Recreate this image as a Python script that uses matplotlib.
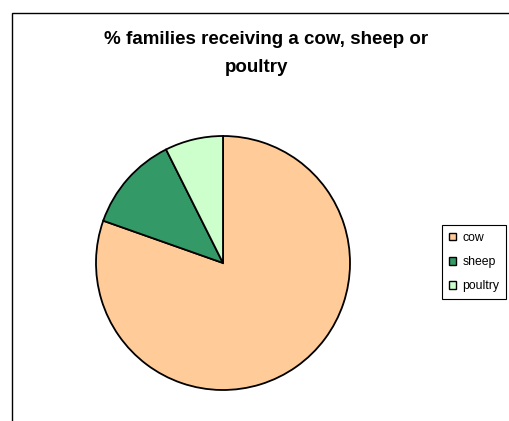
import matplotlib.pyplot as plt
from matplotlib.patches import Rectangle, Patch

labels = ["cow", "sheep", "poultry"]
values = [80.4, 12.2, 7.4]
colors = ["#FFCC99", "#339966", "#CCFFCC"]

plt.rcParams["font.family"] = ["Liberation Sans", "DejaVu Sans"]

W, H = 509, 421
fig = plt.figure(figsize=(W / 100, H / 100), dpi=100)

# chart area frame (only left and top edges visible)
top = 1 - 12.5 / H
fig.patches.append(Rectangle((11.5 / W, -0.2), 1.2, top + 0.2,
                             transform=fig.transFigure, fill=False,
                             edgecolor="#000000", linewidth=1.0))

cx, cy, r = 223, 263, 127
ax = fig.add_axes([(cx - r) / W, (H - cy - r) / H, 2 * r / W, 2 * r / H])
wedges, _ = ax.pie(values, colors=colors, startangle=90, counterclock=False,
                   wedgeprops=dict(edgecolor="black", linewidth=1.3))
for w in wedges:
    w.set_clip_on(False)
ax.set_xlim(-1, 1)
ax.set_ylim(-1, 1)
ax.set_aspect("equal")

fig.text(266 / W, 1 - 40 / H, "% families receiving a cow, sheep or",
         ha="center", va="center", fontsize=13.5, fontweight="bold")
fig.text(257 / W, 1 - 67 / H, "poultry",
         ha="center", va="center", fontsize=13.5, fontweight="bold")

handles = [Patch(facecolor=c, edgecolor="black", linewidth=1.0) for c in colors]
leg = fig.legend(handles, labels, loc="upper left",
                 bbox_to_anchor=(442 / W, 1 - 225 / H),
                 fontsize=8.8, frameon=True, fancybox=False, framealpha=1,
                 edgecolor="black", handlelength=0.6, handleheight=0.6,
                 handletextpad=0.5, labelspacing=1.0, borderpad=0.55,
                 borderaxespad=0)
leg.get_frame().set_linewidth(0.8)

fig.savefig("out.png", dpi=100)
